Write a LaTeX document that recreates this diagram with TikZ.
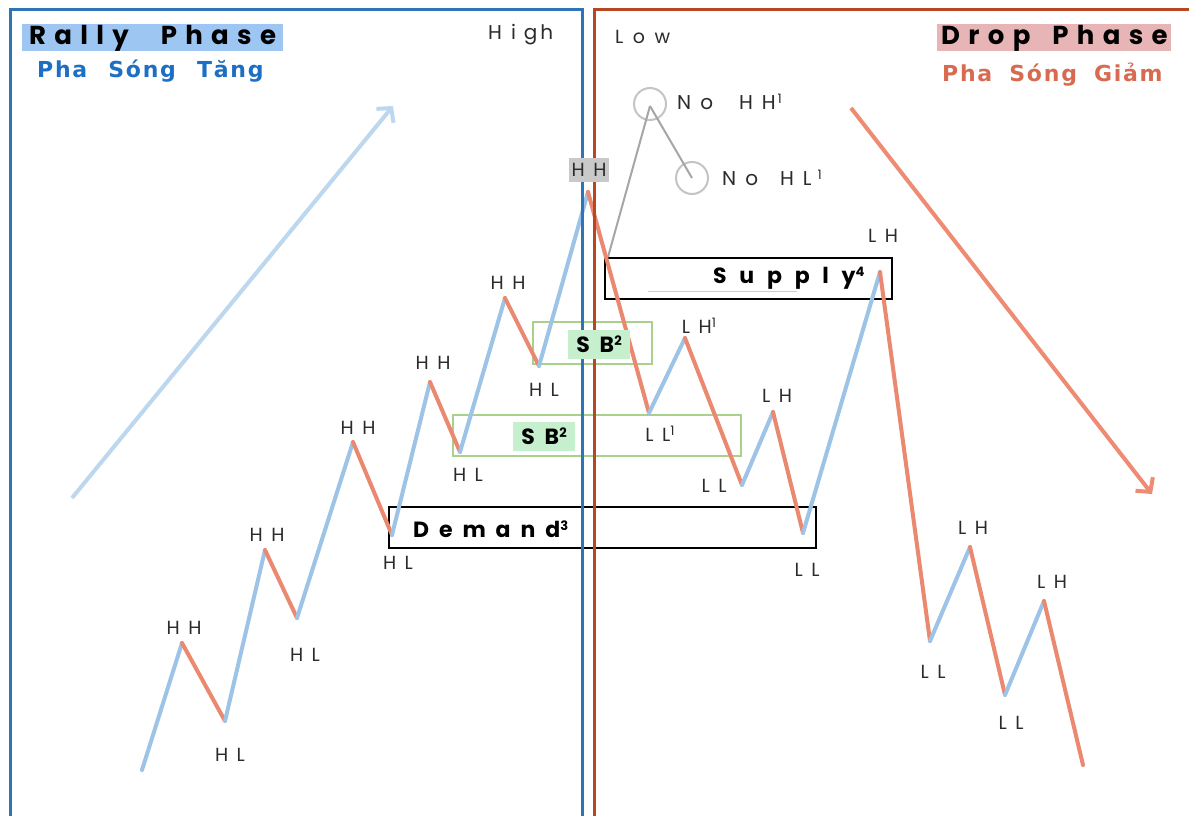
\documentclass[tikz,border=0pt]{standalone}
\usepackage{fontspec}
\setmainfont{Poppins}
\newfontfamily\geo[LetterSpace=45]{Poppins}
\newfontfamily\geot[LetterSpace=32]{Poppins}
\newfontfamily\geobox[LetterSpace=45]{Poppins}
\newfontfamily\geosup[LetterSpace=58]{Poppins}
\newfontfamily\geolow[LetterSpace=50]{Poppins}
\newfontfamily\dvs[LetterSpace=8]{DejaVu Sans}
\usetikzlibrary{arrows.meta}
\definecolor{frameblue}{HTML}{2E75B6}
\definecolor{framered}{HTML}{B8461F}
\definecolor{upc}{HTML}{9DC3E6}
\definecolor{dnc}{HTML}{EB8870}
\definecolor{bigupc}{HTML}{BDD7EE}
\definecolor{bigdnc}{HTML}{EE8B72}
\definecolor{rallybg}{HTML}{9DC6F2}
\definecolor{dropbg}{HTML}{E7B5B5}
\definecolor{tangc}{HTML}{1C6FC4}
\definecolor{giamc}{HTML}{D86A50}
\definecolor{sbgreen}{HTML}{A9D18E}
\definecolor{sbbg}{HTML}{C6EFCE}
\definecolor{hhbg}{HTML}{C9C9C9}
\definecolor{txt}{HTML}{2B2B2B}
\definecolor{circc}{HTML}{C4C4C4}
\definecolor{glc}{HTML}{A6A6A6}
\newcommand{\sx}[1]{\raisebox{0.6ex}{\fontsize{13}{13}\selectfont #1}}
\tikzset{
  upseg/.style={draw=upc, line width=4pt, line cap=round},
  dnseg/.style={draw=dnc, line width=4pt, line cap=round},
  lbl/.style={font=\geo\fontsize{19}{19}\selectfont, text=txt, inner sep=0pt},
  boxlbl/.style={font=\geobox\bfseries\fontsize{22}{22}\selectfont, text=black, inner sep=0pt},
  sbbox/.style={draw=sbgreen, line width=1.5pt},
  zonebox/.style={draw=black, line width=2pt},
  bigarrow/.style={line width=4pt, -{Straight Barb[length=10pt,width=22pt]}},
  ring/.style={draw=circc, line width=2pt, circle, minimum size=32pt, inner sep=0pt},
  pointer/.style={draw=glc, line width=2pt},
  titlefont/.style={font=\geot\bfseries\fontsize{26}{26}\selectfont, text=black},
  vnfont/.style={font=\dvs\bfseries\fontsize{22}{22}\selectfont}
}
\begin{document}
\begin{tikzpicture}[x=1pt,y=-1pt]
\useasboundingbox (0,0) rectangle (1189,816);
\fill[white] (0,0) rectangle (1189,816);

% big trend arrows
\coordinate (la0) at (72,498); \coordinate (la1) at (393,106);
\draw[bigarrow, draw=bigupc] (la0) -- (la1);
\coordinate (ra0) at (851,108); \coordinate (ra1) at (1152,494);
\draw[bigarrow, draw=bigdnc] (ra0) -- (ra1);

% zones
\draw[sbbox] (533,322) rectangle (652,364);
\draw[sbbox] (453,415) rectangle (741,456);
\draw[zonebox] (389,507) rectangle (816,548);
\draw[zonebox] (605,258) rectangle (892,299);
\draw[draw=black!20, line width=0.8pt] (648,291) -- (797,291);

% zigzag points
\foreach \n/\x/\y in {p0/142/770, p1/182/643, p2/225/721, p3/265/550, p4/297/618,
  p5/353/442, p6/392/535, p7/430/382, p8/460/452, p9/505/298, p10/539/366, p11/588/192,
  q1/649/413, q2/685/338, q3/742/485, q4/773/412, q5/803/533, q6/880/272,
  q7/930/641, q8/970/547, q9/1005/695, q10/1044/601, q11/1083/765}
  \coordinate (\n) at (\x,\y);

\draw[upseg] (p0) -- (p1); \draw[dnseg] (p1) -- (p2);
\draw[upseg] (p2) -- (p3); \draw[dnseg] (p3) -- (p4);
\draw[upseg] (p4) -- (p5); \draw[dnseg] (p5) -- (p6);
\draw[upseg] (p6) -- (p7); \draw[dnseg] (p7) -- (p8);
\draw[upseg] (p8) -- (p9); \draw[dnseg] (p9) -- (p10);
\draw[upseg] (p10) -- (p11);
\draw[dnseg] (p11) -- (q1); \draw[upseg] (q1) -- (q2);
\draw[dnseg] (q2) -- (q3); \draw[upseg] (q3) -- (q4);
\draw[dnseg] (q4) -- (q5); \draw[upseg] (q5) -- (q6);
\draw[dnseg] (q6) -- (q7); \draw[upseg] (q7) -- (q8);
\draw[dnseg] (q8) -- (q9); \draw[upseg] (q9) -- (q10);
\draw[dnseg] (q10) -- (q11);

% frames
\draw[draw=frameblue, line width=3pt] (10,820) -- (10,10) -- (582,10) -- (582,820);
\draw[draw=framered, line width=3pt] (594,820) -- (594,10) -- (1195,10);

% titles
\fill[rallybg] (22,24) rectangle (283,51);
\node[anchor=west, inner sep=0pt, titlefont] (rally) at (29,38) {Rally\hspace{32pt}Phase};
\node[anchor=west, inner sep=0pt, vnfont, text=tangc] (tang) at (37,71) {Pha\hspace{21pt}Sóng\hspace{21pt}Tăng};
\fill[dropbg] (937,24) rectangle (1171,51);
\node[anchor=west, inner sep=0pt, titlefont] (drop) at (941,38) {Drop\hspace{22pt}Phase};
\node[anchor=west, inner sep=0pt, vnfont, text=giamc] (giam) at (942,75) {Pha\hspace{17pt}Sóng\hspace{17pt}Giảm};
\node[anchor=west, inner sep=0pt, font=\geolow\fontsize{20}{20}\selectfont, text=txt] (high) at (488,35) {H\hspace{9pt}i\hspace{8pt}g\hspace{3pt}h};
\node[anchor=west, inner sep=0pt, font=\geolow\fontsize{19}{19}\selectfont, text=txt] (low) at (615,37) {Low};

% no HH / no HL
\node[ring] (c1) at (650,104) {};
\node[ring] (c2) at (692,178) {};
\coordinate (c1c) at (650,106);
\coordinate (c2c) at (692,178);
\coordinate (sup) at (608,257);
\draw[pointer] (c1c) -- (c2c);
\draw[pointer] (c1c) -- (sup);
\node[anchor=west, lbl, font=\geo\fontsize{20}{20}\selectfont] (nohh) at (677,102) {No\hspace{26pt}HH\hspace{2pt}\sx{1}};
\node[anchor=west, lbl, font=\geo\fontsize{20}{20}\selectfont] (nohl) at (722,178) {No\hspace{22pt}HL\hspace{6pt}\sx{1}};

% zone labels
\node[anchor=west, inner sep=0pt, font=\geosup\bfseries\fontsize{22}{22}\selectfont] (supply) at (713,278) {Supply\sx{4}};
\node[boxlbl, anchor=west] (demand) at (413,529) {Demand\sx{3}};
\node[boxlbl, fill=sbbg, minimum width=62pt, minimum height=29pt] (sb1) at (599,344) {SB\sx{2}};
\node[boxlbl, fill=sbbg, minimum width=62pt, minimum height=29pt] (sb2) at (544,436) {SB\sx{2}};

% rally labels
\node[lbl] (l1) at (184,628) {HH};
\node[lbl] (l2) at (230,755) {HL};
\node[lbl] (l3) at (267,535) {HH};
\node[lbl] (l4) at (305,655) {HL};
\node[lbl] (l5) at (358,428) {HH};
\node[lbl] (l6) at (398,563) {HL};
\node[lbl] (l7) at (433,363) {HH};
\node[lbl] (l8) at (468,475) {HL};
\node[lbl] (l9) at (508,283) {HH};
\node[lbl] (l10) at (544,390) {HL};
\node[lbl, fill=hhbg, minimum width=40pt, minimum height=24pt] (l11) at (589,170) {HH};

% drop labels
\node[lbl] (m1) at (660,434) {LL\sx{1}};
\node[lbl] (m2) at (699,326) {LH\sx{1}};
\node[lbl] (m3) at (714,486) {LL};
\node[lbl] (m4) at (777,396) {LH};
\node[lbl] (m5) at (807,570) {LL};
\node[lbl] (m6) at (883,236) {LH};
\node[lbl] (m7) at (933,672) {LL};
\node[lbl] (m8) at (973,528) {LH};
\node[lbl] (m9) at (1011,723) {LL};
\node[lbl] (m10) at (1052,582) {LH};
\end{tikzpicture}
\end{document}
